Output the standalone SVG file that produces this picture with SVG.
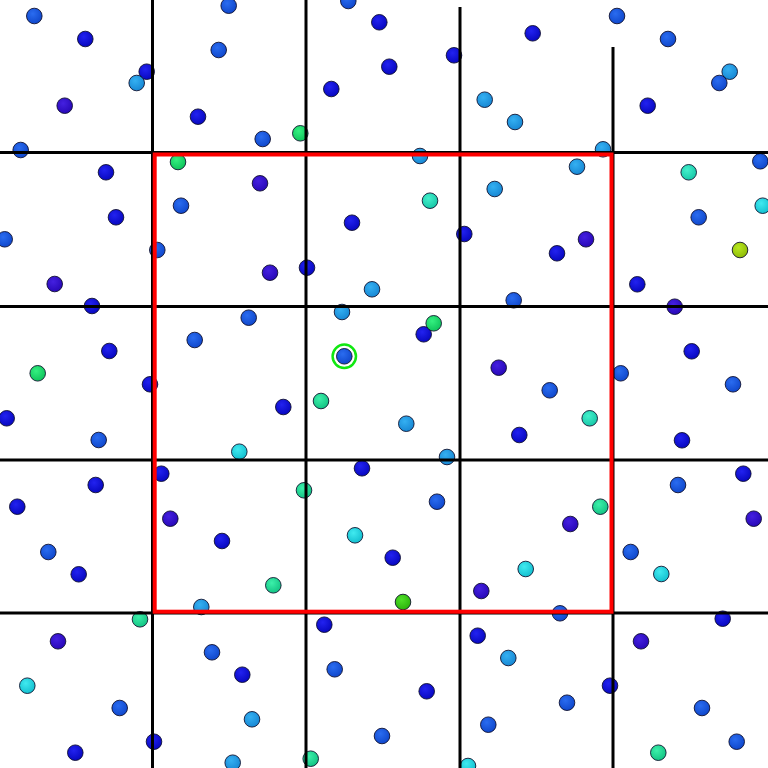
<svg xmlns="http://www.w3.org/2000/svg" width="768" height="768" viewBox="0 0 768 768">
<defs>
<radialGradient id="gb1" cx="0.4" cy="0.35" r="0.65"><stop offset="0" stop-color="#2222f0"/><stop offset="1" stop-color="#0808c0"/></radialGradient>
<radialGradient id="gb2" cx="0.4" cy="0.35" r="0.65"><stop offset="0" stop-color="#2a6cf0"/><stop offset="1" stop-color="#1048cc"/></radialGradient>
<radialGradient id="gb3" cx="0.4" cy="0.35" r="0.65"><stop offset="0" stop-color="#34b0f2"/><stop offset="1" stop-color="#1888d4"/></radialGradient>
<radialGradient id="gv" cx="0.4" cy="0.35" r="0.65"><stop offset="0" stop-color="#4420e0"/><stop offset="1" stop-color="#2808b8"/></radialGradient>
<radialGradient id="gc" cx="0.4" cy="0.35" r="0.65"><stop offset="0" stop-color="#40eaf0"/><stop offset="1" stop-color="#14c0d0"/></radialGradient>
<radialGradient id="gt" cx="0.4" cy="0.35" r="0.65"><stop offset="0" stop-color="#44f0cc"/><stop offset="1" stop-color="#18c8a8"/></radialGradient>
<radialGradient id="gtg" cx="0.4" cy="0.35" r="0.65"><stop offset="0" stop-color="#3cf0aa"/><stop offset="1" stop-color="#14c484"/></radialGradient>
<radialGradient id="gg" cx="0.4" cy="0.35" r="0.65"><stop offset="0" stop-color="#34f080"/><stop offset="1" stop-color="#10c45c"/></radialGradient>
<radialGradient id="glg" cx="0.4" cy="0.35" r="0.65"><stop offset="0" stop-color="#50e028"/><stop offset="1" stop-color="#2cb40c"/></radialGradient>
<radialGradient id="gyg" cx="0.4" cy="0.35" r="0.65"><stop offset="0" stop-color="#b8e820"/><stop offset="1" stop-color="#90bc08"/></radialGradient>
</defs>
<style>
circle.d{stroke:#0a0a28;stroke-width:1;stroke-opacity:0.85}
.b1{fill:url(#gb1)}.b2{fill:url(#gb2)}.b3{fill:url(#gb3)}.v{fill:url(#gv)}
.c{fill:url(#gc)}.t{fill:url(#gt)}.tg{fill:url(#gtg)}.g{fill:url(#gg)}
.lg{fill:url(#glg)}.yg{fill:url(#gyg)}
.grid line{stroke:#000;stroke-width:3}
</style>
<rect width="768" height="768" fill="#fff"/>
<g id="dots">
<circle class="d b2" cx="34.3" cy="16" r="7.8"/>
<circle class="d b1" cx="85.3" cy="39" r="7.8"/>
<circle class="d b1" cx="146.7" cy="71.7" r="7.8"/>
<circle class="d b3" cx="136.7" cy="83" r="7.8"/>
<circle class="d v" cx="64.7" cy="105.7" r="7.8"/>
<circle class="d b1" cx="198" cy="116.7" r="7.8"/>
<circle class="d b2" cx="218.7" cy="50" r="7.8"/>
<circle class="d b2" cx="228.7" cy="5.7" r="7.8"/>
<circle class="d b2" cx="20.7" cy="150" r="7.8"/>
<circle class="d b1" cx="106" cy="172.3" r="7.8"/>
<circle class="d g" cx="178" cy="162" r="7.8"/>
<circle class="d b2" cx="181" cy="205.7" r="7.8"/>
<circle class="d b1" cx="116" cy="217.3" r="7.8"/>
<circle class="d b2" cx="4.7" cy="239.3" r="7.8"/>
<circle class="d b2" cx="157.3" cy="250" r="7.8"/>
<circle class="d v" cx="260" cy="183.3" r="7.8"/>
<circle class="d b2" cx="262.7" cy="139" r="7.8"/>
<circle class="d g" cx="300.3" cy="133.3" r="7.8"/>
<circle class="d b1" cx="331.3" cy="89" r="7.8"/>
<circle class="d b2" cx="348.3" cy="1" r="7.8"/>
<circle class="d b1" cx="379.3" cy="22.3" r="7.8"/>
<circle class="d b1" cx="389.3" cy="66.7" r="7.8"/>
<circle class="d b1" cx="454" cy="55.3" r="7.8"/>
<circle class="d b3" cx="484.7" cy="99.7" r="7.8"/>
<circle class="d b3" cx="515" cy="122" r="7.8"/>
<circle class="d b3" cx="420" cy="156" r="7.8"/>
<circle class="d t" cx="430" cy="200.7" r="7.8"/>
<circle class="d b3" cx="494.7" cy="189" r="7.8"/>
<circle class="d b1" cx="352" cy="222.7" r="7.8"/>
<circle class="d b1" cx="464.3" cy="234" r="7.8"/>
<circle class="d b1" cx="532.7" cy="33.3" r="7.8"/>
<circle class="d b2" cx="617" cy="16" r="7.8"/>
<circle class="d b2" cx="668" cy="39" r="7.8"/>
<circle class="d b3" cx="729.7" cy="71.7" r="7.8"/>
<circle class="d b2" cx="719.3" cy="83" r="7.8"/>
<circle class="d b1" cx="647.7" cy="105.7" r="7.8"/>
<circle class="d b3" cx="603" cy="149.3" r="7.8"/>
<circle class="d b3" cx="577" cy="166.7" r="7.8"/>
<circle class="d t" cx="688.7" cy="172.3" r="7.8"/>
<circle class="d b2" cx="760.3" cy="161.3" r="7.8"/>
<circle class="d c" cx="762.7" cy="205.7" r="7.8"/>
<circle class="d b2" cx="698.7" cy="217.3" r="7.8"/>
<circle class="d v" cx="586" cy="239.3" r="7.8"/>
<circle class="d b1" cx="557" cy="253.3" r="7.8"/>
<circle class="d yg" cx="740" cy="250" r="7.8"/>
<circle class="d v" cx="54.7" cy="284" r="7.8"/>
<circle class="d b1" cx="92" cy="306" r="7.8"/>
<circle class="d b2" cx="248.7" cy="317.7" r="7.8"/>
<circle class="d b2" cx="194.7" cy="340" r="7.8"/>
<circle class="d b1" cx="109.3" cy="351" r="7.8"/>
<circle class="d g" cx="37.7" cy="373.3" r="7.8"/>
<circle class="d b1" cx="150" cy="384.3" r="7.8"/>
<circle class="d b1" cx="6.7" cy="418.3" r="7.8"/>
<circle class="d b2" cx="98.7" cy="440" r="7.8"/>
<circle class="d c" cx="239.3" cy="451.7" r="7.8"/>
<circle class="d b1" cx="161.3" cy="473.7" r="7.8"/>
<circle class="d b1" cx="95.7" cy="485" r="7.8"/>
<circle class="d b1" cx="17.3" cy="506.7" r="7.8"/>
<circle class="d v" cx="270" cy="272.7" r="7.8"/>
<circle class="d b1" cx="307" cy="267.7" r="7.8"/>
<circle class="d b3" cx="372" cy="289.3" r="7.8"/>
<circle class="d b3" cx="342" cy="312" r="7.8"/>
<circle class="d b1" cx="423.7" cy="334.3" r="7.8"/>
<circle class="d g" cx="433.7" cy="323.3" r="7.8"/>
<circle class="d b2" cx="344.3" cy="356.3" r="7.8"/>
<circle class="d v" cx="498.7" cy="367.7" r="7.8"/>
<circle class="d b1" cx="283.3" cy="407" r="7.8"/>
<circle class="d tg" cx="321" cy="401" r="7.8"/>
<circle class="d b3" cx="406.3" cy="423.7" r="7.8"/>
<circle class="d b3" cx="447" cy="457" r="7.8"/>
<circle class="d b1" cx="362" cy="468.3" r="7.8"/>
<circle class="d tg" cx="304" cy="490.3" r="7.8"/>
<circle class="d b2" cx="437" cy="501.7" r="7.8"/>
<circle class="d b2" cx="513.7" cy="300.3" r="7.8"/>
<circle class="d b1" cx="637.3" cy="284.3" r="7.8"/>
<circle class="d v" cx="674.7" cy="306.7" r="7.8"/>
<circle class="d b1" cx="691.7" cy="351.3" r="7.8"/>
<circle class="d b2" cx="620.7" cy="373.3" r="7.8"/>
<circle class="d b2" cx="733" cy="384.3" r="7.8"/>
<circle class="d b2" cx="549.7" cy="390.3" r="7.8"/>
<circle class="d t" cx="589.7" cy="418.3" r="7.8"/>
<circle class="d b1" cx="519.3" cy="435" r="7.8"/>
<circle class="d b1" cx="682" cy="440.3" r="7.8"/>
<circle class="d b1" cx="743.3" cy="473.7" r="7.8"/>
<circle class="d b2" cx="678" cy="485" r="7.8"/>
<circle class="d tg" cx="600.3" cy="506.7" r="7.8"/>
<circle class="d v" cx="753.7" cy="518.7" r="7.8"/>
<circle class="d b2" cx="48.3" cy="552" r="7.8"/>
<circle class="d b1" cx="78.7" cy="574.3" r="7.8"/>
<circle class="d v" cx="170.3" cy="518.7" r="7.8"/>
<circle class="d b1" cx="222" cy="541" r="7.8"/>
<circle class="d b3" cx="201.3" cy="607" r="7.8"/>
<circle class="d tg" cx="140" cy="619.3" r="7.8"/>
<circle class="d v" cx="58" cy="641.3" r="7.8"/>
<circle class="d b2" cx="212" cy="652.3" r="7.8"/>
<circle class="d b1" cx="242.3" cy="674.7" r="7.8"/>
<circle class="d c" cx="27.3" cy="685.7" r="7.8"/>
<circle class="d b2" cx="119.7" cy="708" r="7.8"/>
<circle class="d b3" cx="252" cy="719.3" r="7.8"/>
<circle class="d b1" cx="154" cy="741.7" r="7.8"/>
<circle class="d b1" cx="75.3" cy="752.7" r="7.8"/>
<circle class="d b3" cx="232.7" cy="762.7" r="7.8"/>
<circle class="d c" cx="355" cy="535.3" r="7.8"/>
<circle class="d b1" cx="392.7" cy="557.7" r="7.8"/>
<circle class="d tg" cx="273.3" cy="585.3" r="7.8"/>
<circle class="d lg" cx="403" cy="602" r="7.8"/>
<circle class="d v" cx="481.3" cy="591" r="7.8"/>
<circle class="d b1" cx="324.3" cy="624.7" r="7.8"/>
<circle class="d b1" cx="477.7" cy="635.7" r="7.8"/>
<circle class="d b3" cx="508.3" cy="658" r="7.8"/>
<circle class="d b2" cx="334.7" cy="669.3" r="7.8"/>
<circle class="d b1" cx="426.7" cy="691.3" r="7.8"/>
<circle class="d b2" cx="488.3" cy="724.7" r="7.8"/>
<circle class="d b2" cx="382" cy="736" r="7.8"/>
<circle class="d tg" cx="310.7" cy="758.7" r="7.8"/>
<circle class="d c" cx="468" cy="766" r="7.8"/>
<circle class="d v" cx="570.3" cy="524" r="7.8"/>
<circle class="d b2" cx="630.7" cy="552" r="7.8"/>
<circle class="d c" cx="525.7" cy="569" r="7.8"/>
<circle class="d c" cx="661.3" cy="574" r="7.8"/>
<circle class="d b2" cx="560" cy="613.3" r="7.8"/>
<circle class="d b1" cx="722.7" cy="618.7" r="7.8"/>
<circle class="d v" cx="641" cy="641.3" r="7.8"/>
<circle class="d b1" cx="610" cy="685.7" r="7.8"/>
<circle class="d b2" cx="567" cy="702.7" r="7.8"/>
<circle class="d b2" cx="702" cy="708" r="7.8"/>
<circle class="d b2" cx="736.7" cy="741.7" r="7.8"/>
<circle class="d tg" cx="658.3" cy="752.7" r="7.8"/>
</g>
<g id="grid" class="grid">
<line x1="152.5" y1="0" x2="152.5" y2="768"/>
<line x1="306" y1="0" x2="306" y2="768"/>
<line x1="460" y1="7" x2="460" y2="768"/>
<line x1="613" y1="47" x2="613" y2="768"/>
<line x1="0" y1="152.5" x2="768" y2="152.5"/>
<line x1="0" y1="306.5" x2="768" y2="306.5"/>
<line x1="0" y1="460" x2="768" y2="460"/>
<line x1="0" y1="613" x2="768" y2="613"/>
</g>
<rect id="box" x="154.7" y="154.5" width="456.8" height="457.2" fill="none" stroke="#ff0000" stroke-width="4"/>
<circle id="marker" cx="344.3" cy="356.3" r="11.7" fill="none" stroke="#10e810" stroke-width="2.5"/>
</svg>
